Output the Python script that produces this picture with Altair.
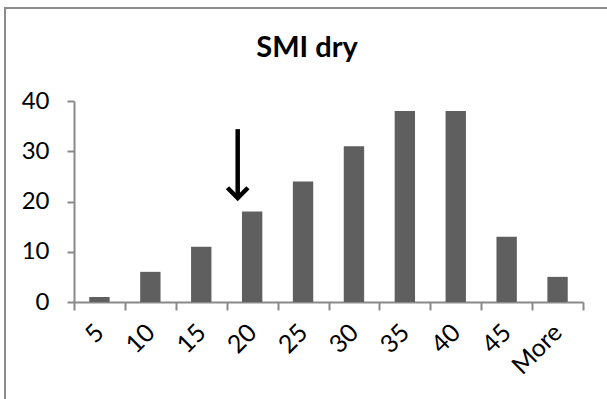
import altair as alt
import pandas as pd

# Histogram bins and counts
bins = ["5", "10", "15", "20", "25", "30", "35", "40", "45", "More"]
counts = [1, 6, 11, 18, 24, 31, 38, 38, 13, 5]

# Annotation arrow pointing at the "20" bin
arrow_bin = ["20"]
arrow_top = [34.4]
arrow_tip = [20.7]

title_text = "SMI dry"
FONT = "Lato"

df = pd.DataFrame({"bin": bins, "count": counts})
arrow_df = pd.DataFrame({"bin": arrow_bin, "top": arrow_top, "tip": arrow_tip})

x_scale = alt.Scale(domain=bins, paddingInner=0, paddingOuter=0)
y_scale = alt.Scale(domain=[0, 40], nice=False)

x_axis = alt.Axis(
    title=None, labelAngle=-45, labelAlign="right", labelBaseline="middle",
    labelPadding=18, labelFontSize=25, labelFont=FONT, labelColor="#000000",
    tickBand="extent", tickSize=8, tickColor="#898989", tickWidth=2,
    domainColor="#898989", domainWidth=2, grid=False,
)
y_axis = alt.Axis(
    title=None, values=[0, 10, 20, 30, 40], labelFontSize=24, labelFont=FONT,
    labelColor="#000000", labelPadding=18, tickSize=7, tickColor="#898989",
    tickWidth=2, domainColor="#898989", domainWidth=2, grid=False,
)

bars = alt.Chart(df).mark_bar(
    color="#5f5f5f", width=alt.RelativeBandSize(0.4)
).encode(
    x=alt.X("bin:N", scale=x_scale, axis=x_axis, sort=bins),
    y=alt.Y("count:Q", scale=y_scale, axis=y_axis),
)

shaft = alt.Chart(arrow_df).mark_rule(color="#000000", strokeWidth=4.5).encode(
    x=alt.X("bin:N", scale=x_scale, sort=bins),
    y=alt.Y("top:Q", scale=y_scale),
    y2="tip:Q",
    xOffset=alt.value(11),
)

head = alt.Chart(arrow_df).mark_point(
    shape="M-1,-1L0,0L1,-1", filled=False, color="#000000",
    strokeWidth=4.5, size=420, opacity=1, strokeJoin="miter",
).encode(
    x=alt.X("bin:N", scale=x_scale, sort=bins),
    y=alt.Y("tip:Q", scale=y_scale),
    xOffset=alt.value(11),
)

title = alt.Chart(pd.DataFrame({"t": [title_text]})).mark_text(
    font=FONT, fontSize=29, fontWeight="bold", color="#000000",
    align="center", baseline="alphabetic",
).encode(text="t:N", x=alt.value(233), y=alt.value(-44))

frame = alt.Chart(pd.DataFrame({"f": [0]})).mark_rect(
    fill=None, stroke="#8c8c8c", strokeWidth=2,
).encode(x=alt.value(-69), x2=alt.value(700), y=alt.value(-93), y2=alt.value(500))

chart = alt.layer(frame, bars, shaft, head, title).properties(
    width=509, height=201,
    autosize=alt.AutoSizeParams(type="none"),
    padding={"left": 74, "top": 101, "right": 24, "bottom": 97},
    background="#ffffff",
).configure_view(stroke=None)

chart.save("out.html", embed_options={"renderer": "svg", "actions": False})
